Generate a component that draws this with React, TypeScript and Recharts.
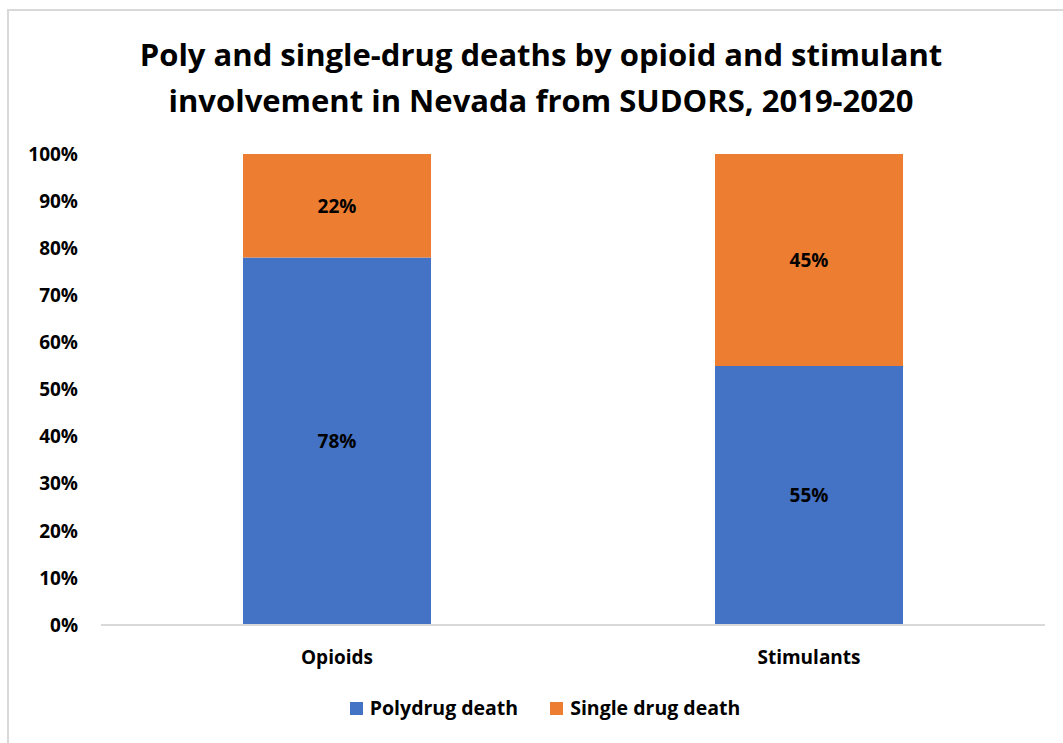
import { BarChart, Bar, XAxis, YAxis, LabelList } from 'recharts';

const categories = ['Opioids', 'Stimulants'];
const polydrug = [78, 55];
const singleDrug = [22, 45];
const yTicks = [0, 10, 20, 30, 40, 50, 60, 70, 80, 90, 100];

const BLUE = '#4472C4';
const ORANGE = '#ED7D31';
const FONT = '"Open Sans", Lato, sans-serif';

const data = categories.map((name, i) => ({
  name,
  poly: polydrug[i],
  single: singleDrug[i],
}));

const legendItems = [
  { label: 'Polydrug death', color: BLUE },
  { label: 'Single drug death', color: ORANGE },
];

const labelStyle = { fill: '#000', fontSize: 19, fontWeight: 700, fontFamily: FONT };

export default function App() {
  return (
    <div style={{ position: 'fixed', left: 0, top: 0, width: 1063, height: 743, overflow: 'hidden', background: '#fff' }}>
      {/* chart border, cropped on the right and bottom */}
      <div style={{ position: 'absolute', left: 7, top: 9, width: 1100, height: 800, border: '2px solid #d9d9d9' }} />
      <div
        style={{
          position: 'absolute',
          left: 0,
          top: 31,
          width: 1082,
          textAlign: 'center',
          fontFamily: FONT,
          fontWeight: 700,
          fontSize: 31,
          lineHeight: '46px',
          color: '#000',
        }}
      >
        Poly and single-drug deaths by opioid and stimulant
        <br />
        involvement in Nevada from SUDORS, 2019-2020
      </div>
      <div style={{ position: 'absolute', left: 0, top: 0 }}>
        <BarChart
          width={1063}
          height={743}
          data={data}
          margin={{ top: 154, right: 18, left: 0, bottom: 78 }}
          barSize={188}
        >
          <XAxis
            dataKey="name"
            axisLine={{ stroke: '#d9d9d9', strokeWidth: 2 }}
            tickLine={false}
            tick={labelStyle}
            tickMargin={20}
            height={40}
          />
          <YAxis
            domain={[0, 100]}
            ticks={yTicks}
            interval={0}
            axisLine={false}
            tickLine={false}
            tickSize={0}
            tickMargin={23}
            width={101}
            tickFormatter={(v) => `${v}%`}
            tick={labelStyle}
          />
          <Bar dataKey="poly" stackId="a" fill={BLUE} isAnimationActive={false}>
            <LabelList dataKey="poly" position="center" formatter={(v: number) => `${v}%`} style={labelStyle} />
          </Bar>
          <Bar dataKey="single" stackId="a" fill={ORANGE} isAnimationActive={false}>
            <LabelList dataKey="single" position="center" formatter={(v: number) => `${v}%`} style={labelStyle} />
          </Bar>
        </BarChart>
      </div>
      <div
        style={{
          position: 'absolute',
          left: 0,
          top: 694,
          width: 1090,
          display: 'flex',
          justifyContent: 'center',
          alignItems: 'center',
          gap: 32,
        }}
      >
        {legendItems.map((it) => (
          <div key={it.label} style={{ display: 'flex', alignItems: 'center' }}>
            <span style={{ width: 13, height: 13, background: it.color, marginRight: 7, display: 'inline-block' }} />
            <span style={{ fontFamily: FONT, fontWeight: 700, fontSize: 19.5, color: '#000', lineHeight: '28px' }}>
              {it.label}
            </span>
          </div>
        ))}
      </div>
    </div>
  );
}
